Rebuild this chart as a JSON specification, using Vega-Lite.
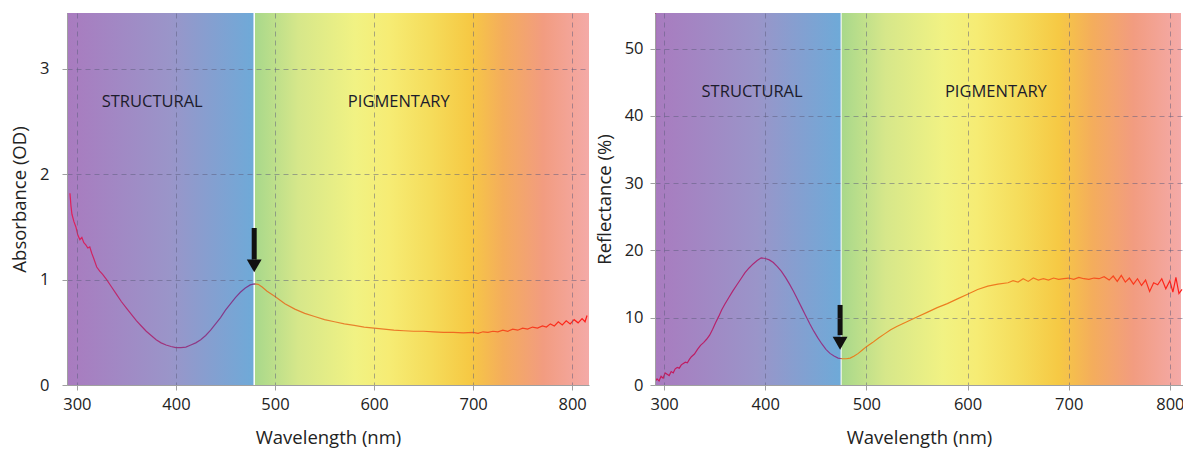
{
  "$schema": "https://vega.github.io/schema/vega-lite/v6.json",
  "background": "white",
  "padding": {"left": 10, "top": 12, "right": 0, "bottom": 3},
  "spacing": 6,
  "config": {
    "font": "Open Sans",
    "view": {"stroke": null},
    "axis": {
      "labelFont": "Open Sans", "labelFontSize": 16.5, "labelColor": "#222222",
      "titleFont": "Open Sans", "titleFontSize": 18.5, "titleFontWeight": "normal", "titleColor": "#222222",
      "domainColor": "#a0a0a0", "tickColor": "#a0a0a0", "tickSize": 5,
      "gridColor": "#5c5c7c", "gridOpacity": 0.5, "gridDash": [5, 4], "gridWidth": 1
    }
  },
  "datasets": {
    "regions": [
      {"panel": "L", "region": "structural", "x0": 290, "x1": 479.5},
      {"panel": "L", "region": "pigmentary", "x0": 479.5, "x1": 818},
      {"panel": "R", "region": "structural", "x0": 291, "x1": 475},
      {"panel": "R", "region": "pigmentary", "x0": 475, "x1": 811}
    ],
    "labels": [
      {"panel": "L", "w": 376, "v": 2.69, "text": "STRUCTURAL"},
      {"panel": "L", "w": 625, "v": 2.69, "text": "PIGMENTARY"},
      {"panel": "R", "w": 387, "v": 43.6, "text": "STRUCTURAL"},
      {"panel": "R", "w": 628, "v": 43.6, "text": "PIGMENTARY"}
    ],
    "arrows": [
      {"panel": "L", "w": 479, "top": 1.49, "bottom": 1.19, "head": 1.13},
      {"panel": "R", "w": 474, "top": 11.9, "bottom": 7.4, "head": 6.2}
    ],
    "edge": [
      {"w": 291.3, "r1": 30.7, "r2": 56}
    ],
    "absorbance": [
      {"w": 293, "a": 1.82}, {"w": 294, "a": 1.7}, {"w": 295, "a": 1.62}, {"w": 297, "a": 1.55}, {"w": 299, "a": 1.5},
      {"w": 301, "a": 1.42}, {"w": 303, "a": 1.38}, {"w": 305, "a": 1.4}, {"w": 307, "a": 1.35}, {"w": 309, "a": 1.33},
      {"w": 311, "a": 1.3}, {"w": 313, "a": 1.31}, {"w": 315, "a": 1.25}, {"w": 317, "a": 1.2}, {"w": 320, "a": 1.12},
      {"w": 323, "a": 1.08}, {"w": 326, "a": 1.05}, {"w": 330, "a": 1.0}, {"w": 335, "a": 0.93}, {"w": 340, "a": 0.86},
      {"w": 345, "a": 0.79}, {"w": 350, "a": 0.73}, {"w": 355, "a": 0.67}, {"w": 360, "a": 0.61}, {"w": 365, "a": 0.56},
      {"w": 370, "a": 0.51}, {"w": 375, "a": 0.47}, {"w": 380, "a": 0.43}, {"w": 385, "a": 0.4}, {"w": 390, "a": 0.38},
      {"w": 395, "a": 0.365}, {"w": 400, "a": 0.355}, {"w": 405, "a": 0.355}, {"w": 410, "a": 0.36}, {"w": 415, "a": 0.38},
      {"w": 420, "a": 0.4}, {"w": 425, "a": 0.43}, {"w": 430, "a": 0.47}, {"w": 435, "a": 0.52}, {"w": 440, "a": 0.58},
      {"w": 445, "a": 0.64}, {"w": 450, "a": 0.71}, {"w": 455, "a": 0.77}, {"w": 460, "a": 0.83}, {"w": 465, "a": 0.88},
      {"w": 470, "a": 0.92}, {"w": 475, "a": 0.95}, {"w": 479, "a": 0.96}, {"w": 483, "a": 0.955}, {"w": 487, "a": 0.93},
      {"w": 492, "a": 0.89}, {"w": 500, "a": 0.84}, {"w": 510, "a": 0.77}, {"w": 520, "a": 0.72}, {"w": 530, "a": 0.68},
      {"w": 540, "a": 0.65}, {"w": 550, "a": 0.62}, {"w": 560, "a": 0.6}, {"w": 570, "a": 0.58}, {"w": 580, "a": 0.565},
      {"w": 590, "a": 0.55}, {"w": 600, "a": 0.54}, {"w": 610, "a": 0.53}, {"w": 620, "a": 0.52}, {"w": 630, "a": 0.515},
      {"w": 640, "a": 0.51}, {"w": 650, "a": 0.51}, {"w": 660, "a": 0.505}, {"w": 670, "a": 0.5}, {"w": 680, "a": 0.5},
      {"w": 690, "a": 0.495}, {"w": 700, "a": 0.5}, {"w": 705, "a": 0.49}, {"w": 710, "a": 0.505}, {"w": 715, "a": 0.5},
      {"w": 720, "a": 0.51}, {"w": 725, "a": 0.505}, {"w": 730, "a": 0.52}, {"w": 735, "a": 0.51}, {"w": 740, "a": 0.53},
      {"w": 745, "a": 0.52}, {"w": 750, "a": 0.54}, {"w": 755, "a": 0.53}, {"w": 760, "a": 0.55}, {"w": 765, "a": 0.54},
      {"w": 770, "a": 0.56}, {"w": 774, "a": 0.55}, {"w": 778, "a": 0.58}, {"w": 782, "a": 0.56}, {"w": 786, "a": 0.6},
      {"w": 790, "a": 0.57}, {"w": 794, "a": 0.61}, {"w": 798, "a": 0.58}, {"w": 802, "a": 0.62}, {"w": 806, "a": 0.59},
      {"w": 810, "a": 0.63}, {"w": 813, "a": 0.6}, {"w": 815, "a": 0.66}
    ],
    "reflectance": [
      {"w": 291, "r": 0.5}, {"w": 293, "r": 0.9}, {"w": 295, "r": 0.6}, {"w": 297, "r": 1.3}, {"w": 299, "r": 1.0},
      {"w": 301, "r": 1.8}, {"w": 303, "r": 1.6}, {"w": 305, "r": 1.4}, {"w": 307, "r": 2.0}, {"w": 309, "r": 1.8},
      {"w": 311, "r": 2.4}, {"w": 313, "r": 2.6}, {"w": 315, "r": 2.5}, {"w": 317, "r": 3.0}, {"w": 319, "r": 3.2},
      {"w": 321, "r": 3.4}, {"w": 323, "r": 3.3}, {"w": 325, "r": 3.8}, {"w": 327, "r": 4.2}, {"w": 330, "r": 4.6},
      {"w": 333, "r": 5.3}, {"w": 336, "r": 5.9}, {"w": 339, "r": 6.3}, {"w": 342, "r": 6.8}, {"w": 345, "r": 7.4},
      {"w": 348, "r": 8.3}, {"w": 351, "r": 9.3}, {"w": 354, "r": 10.2}, {"w": 357, "r": 11.2}, {"w": 360, "r": 12.0},
      {"w": 364, "r": 13.0}, {"w": 368, "r": 14.0}, {"w": 372, "r": 14.9}, {"w": 376, "r": 15.8}, {"w": 380, "r": 16.7},
      {"w": 384, "r": 17.4}, {"w": 388, "r": 18.0}, {"w": 392, "r": 18.5}, {"w": 396, "r": 18.9}, {"w": 400, "r": 18.8},
      {"w": 404, "r": 18.6}, {"w": 408, "r": 18.2}, {"w": 412, "r": 17.6}, {"w": 416, "r": 16.9}, {"w": 420, "r": 16.0},
      {"w": 424, "r": 15.0}, {"w": 428, "r": 13.9}, {"w": 432, "r": 12.7}, {"w": 436, "r": 11.5}, {"w": 440, "r": 10.3},
      {"w": 444, "r": 9.1}, {"w": 448, "r": 8.0}, {"w": 452, "r": 7.0}, {"w": 456, "r": 6.1}, {"w": 460, "r": 5.3},
      {"w": 464, "r": 4.7}, {"w": 468, "r": 4.3}, {"w": 472, "r": 4.0}, {"w": 476, "r": 3.9}, {"w": 480, "r": 3.9},
      {"w": 484, "r": 4.0}, {"w": 488, "r": 4.3}, {"w": 492, "r": 4.7}, {"w": 496, "r": 5.2}, {"w": 500, "r": 5.7},
      {"w": 506, "r": 6.3}, {"w": 512, "r": 7.0}, {"w": 518, "r": 7.6}, {"w": 524, "r": 8.2}, {"w": 530, "r": 8.7},
      {"w": 540, "r": 9.4}, {"w": 550, "r": 10.1}, {"w": 560, "r": 10.8}, {"w": 570, "r": 11.5}, {"w": 580, "r": 12.1},
      {"w": 590, "r": 12.8}, {"w": 600, "r": 13.5}, {"w": 610, "r": 14.2}, {"w": 620, "r": 14.7}, {"w": 630, "r": 15.0},
      {"w": 640, "r": 15.2}, {"w": 645, "r": 15.5}, {"w": 650, "r": 15.3}, {"w": 655, "r": 15.8}, {"w": 660, "r": 15.4},
      {"w": 665, "r": 15.9}, {"w": 670, "r": 15.6}, {"w": 675, "r": 15.8}, {"w": 680, "r": 15.6}, {"w": 685, "r": 15.9},
      {"w": 690, "r": 15.7}, {"w": 695, "r": 15.8}, {"w": 700, "r": 15.9}, {"w": 705, "r": 15.7}, {"w": 710, "r": 16.0},
      {"w": 715, "r": 15.8}, {"w": 720, "r": 15.7}, {"w": 725, "r": 15.9}, {"w": 730, "r": 15.8}, {"w": 735, "r": 16.1},
      {"w": 740, "r": 15.6}, {"w": 744, "r": 16.2}, {"w": 748, "r": 15.4}, {"w": 752, "r": 16.3}, {"w": 756, "r": 15.3},
      {"w": 760, "r": 15.9}, {"w": 764, "r": 15.0}, {"w": 768, "r": 15.8}, {"w": 772, "r": 14.8}, {"w": 776, "r": 15.6},
      {"w": 780, "r": 13.9}, {"w": 784, "r": 15.2}, {"w": 788, "r": 14.9}, {"w": 792, "r": 15.8}, {"w": 796, "r": 14.3},
      {"w": 800, "r": 15.5}, {"w": 803, "r": 13.8}, {"w": 806, "r": 16.0}, {"w": 809, "r": 13.6}, {"w": 812, "r": 14.2}
    ]
  },
  "hconcat": [
    {
      "width": 522,
      "height": 372,
      "layer": [
        {
          "data": {"name": "regions"},
          "transform": [{"filter": "datum.panel == 'L' && datum.region == 'structural'"}],
          "mark": {"type": "rect", "clip": true, "fill": {"gradient": "linear", "x1": 0, "y1": 0, "x2": 1, "y2": 0,
            "stops": [{"offset": 0, "color": "#a97bbf"}, {"offset": 0.55, "color": "#9a95c9"}, {"offset": 1, "color": "#6eaad8"}]}},
          "encoding": {
            "x": {"field": "x0", "type": "quantitative", "scale": {"domain": [290, 817], "nice": false},
              "axis": {"values": [300, 400, 500, 600, 700, 800], "title": "Wavelength (nm)", "titlePadding": 16, "labelPadding": 6, "zindex": 1, "grid": true}},
            "x2": {"field": "x1"}
          }
        },
        {
          "data": {"name": "regions"},
          "transform": [{"filter": "datum.panel == 'L' && datum.region == 'pigmentary'"}],
          "mark": {"type": "rect", "clip": true, "fill": {"gradient": "linear", "x1": 0, "y1": 0, "x2": 1, "y2": 0,
            "stops": [{"offset": 0, "color": "#a8d88b"}, {"offset": 0.13, "color": "#d6e78a"}, {"offset": 0.3, "color": "#f1f283"},
              {"offset": 0.4, "color": "#f6ec74"}, {"offset": 0.52, "color": "#f5dd5c"}, {"offset": 0.64, "color": "#f6c944"},
              {"offset": 0.74, "color": "#f4ad5c"}, {"offset": 0.86, "color": "#f29c80"}, {"offset": 1, "color": "#f4aaa8"}]}},
          "encoding": {
            "x": {"field": "x0", "type": "quantitative"},
            "x2": {"field": "x1"}
          }
        },
        {
          "data": {"name": "arrows"},
          "transform": [{"filter": "datum.panel == 'L'"}],
          "mark": {"type": "rule", "color": "white", "strokeWidth": 1.5},
          "encoding": {"x": {"field": "w", "type": "quantitative"}}
        },
        {
          "data": {"name": "absorbance"},
          "mark": {"type": "line", "clip": true, "strokeWidth": 1.2, "interpolate": "linear",
            "stroke": {"gradient": "linear", "x1": 0, "y1": 0, "x2": 1, "y2": 0,
              "stops": [{"offset": 0, "color": "#e0205a"}, {"offset": 0.1, "color": "#b82a70"}, {"offset": 0.25, "color": "#8c3a86"},
                {"offset": 0.356, "color": "#7a3a8e"}, {"offset": 0.36, "color": "#e0782c"}, {"offset": 0.55, "color": "#e8842c"},
                {"offset": 0.75, "color": "#f06a20"}, {"offset": 0.9, "color": "#f83a1e"}, {"offset": 1, "color": "#ff1a1a"}]}},
          "encoding": {
            "x": {"field": "w", "type": "quantitative"},
            "y": {"field": "a", "type": "quantitative", "scale": {"domain": [0, 3.53], "nice": false},
              "axis": {"values": [0, 1, 2, 3], "format": "d", "title": "Absorbance (OD)", "titlePadding": 10, "labelPadding": 13, "zindex": 1, "grid": true}}
          }
        },
        {
          "data": {"name": "labels"},
          "transform": [{"filter": "datum.panel == 'L'"}],
          "mark": {"type": "text", "fontSize": 16.5, "color": "#1c1c2c", "font": "Open Sans"},
          "encoding": {
            "x": {"field": "w", "type": "quantitative"},
            "y": {"field": "v", "type": "quantitative"},
            "text": {"field": "text"}
          }
        },
        {
          "data": {"name": "arrows"},
          "transform": [{"filter": "datum.panel == 'L'"}],
          "mark": {"type": "rule", "color": "#111111", "strokeWidth": 5},
          "encoding": {
            "x": {"field": "w", "type": "quantitative"},
            "y": {"field": "top", "type": "quantitative"},
            "y2": {"field": "bottom"}
          }
        },
        {
          "data": {"name": "arrows"},
          "transform": [{"filter": "datum.panel == 'L'"}],
          "mark": {"type": "point", "shape": "triangle-down", "filled": true, "color": "#111111", "size": 220, "opacity": 1},
          "encoding": {
            "x": {"field": "w", "type": "quantitative"},
            "y": {"field": "head", "type": "quantitative"}
          }
        }
      ]
    },
    {
      "width": 528,
      "height": 372,
      "layer": [
        {
          "data": {"name": "regions"},
          "transform": [{"filter": "datum.panel == 'R' && datum.region == 'structural'"}],
          "mark": {"type": "rect", "clip": true, "fill": {"gradient": "linear", "x1": 0, "y1": 0, "x2": 1, "y2": 0,
            "stops": [{"offset": 0, "color": "#a97bbf"}, {"offset": 0.55, "color": "#9a95c9"}, {"offset": 1, "color": "#6eaad8"}]}},
          "encoding": {
            "x": {"field": "x0", "type": "quantitative", "scale": {"domain": [291, 813], "nice": false},
              "axis": {"values": [300, 400, 500, 600, 700, 800], "title": "Wavelength (nm)", "titlePadding": 16, "labelPadding": 6, "zindex": 1, "grid": true}},
            "x2": {"field": "x1"}
          }
        },
        {
          "data": {"name": "regions"},
          "transform": [{"filter": "datum.panel == 'R' && datum.region == 'pigmentary'"}],
          "mark": {"type": "rect", "clip": true, "fill": {"gradient": "linear", "x1": 0, "y1": 0, "x2": 1, "y2": 0,
            "stops": [{"offset": 0, "color": "#a8d88b"}, {"offset": 0.13, "color": "#d6e78a"}, {"offset": 0.3, "color": "#f1f283"},
              {"offset": 0.4, "color": "#f6ec74"}, {"offset": 0.52, "color": "#f5dd5c"}, {"offset": 0.64, "color": "#f6c944"},
              {"offset": 0.74, "color": "#f4ad5c"}, {"offset": 0.86, "color": "#f29c80"}, {"offset": 1, "color": "#f4aaa8"}]}},
          "encoding": {
            "x": {"field": "x0", "type": "quantitative"},
            "x2": {"field": "x1"}
          }
        },
        {
          "data": {"name": "regions"},
          "transform": [{"filter": "datum.panel == 'R' && datum.region == 'pigmentary'"}],
          "mark": {"type": "rule", "color": "white", "strokeWidth": 1},
          "encoding": {"x": {"field": "x0", "type": "quantitative"}}
        },
        {
          "data": {"name": "edge"},
          "mark": {"type": "rule", "clip": true, "color": "#9a1050", "strokeWidth": 1.5},
          "encoding": {
            "x": {"field": "w", "type": "quantitative"},
            "y": {"field": "r1", "type": "quantitative"},
            "y2": {"field": "r2"}
          }
        },
        {
          "data": {"name": "reflectance"},
          "mark": {"type": "line", "clip": true, "strokeWidth": 1.2, "interpolate": "linear",
            "stroke": {"gradient": "linear", "x1": 0, "y1": 0, "x2": 1, "y2": 0,
              "stops": [{"offset": 0, "color": "#c8185a"}, {"offset": 0.2, "color": "#a82a78"}, {"offset": 0.35, "color": "#8a3a8c"},
                {"offset": 0.356, "color": "#e8821e"}, {"offset": 0.7, "color": "#f07a20"}, {"offset": 0.86, "color": "#f84a1e"},
                {"offset": 1, "color": "#ff1a1a"}]}},
          "encoding": {
            "x": {"field": "w", "type": "quantitative"},
            "y": {"field": "r", "type": "quantitative", "scale": {"domain": [0, 55.3], "nice": false},
              "axis": {"values": [0, 10, 20, 30, 40, 50], "title": "Reflectance (%)", "titlePadding": 10, "labelPadding": 7, "zindex": 1, "grid": true}}
          }
        },
        {
          "data": {"name": "labels"},
          "transform": [{"filter": "datum.panel == 'R'"}],
          "mark": {"type": "text", "fontSize": 16.5, "color": "#1c1c2c", "font": "Open Sans"},
          "encoding": {
            "x": {"field": "w", "type": "quantitative"},
            "y": {"field": "v", "type": "quantitative"},
            "text": {"field": "text"}
          }
        },
        {
          "data": {"name": "arrows"},
          "transform": [{"filter": "datum.panel == 'R'"}],
          "mark": {"type": "rule", "color": "#111111", "strokeWidth": 5},
          "encoding": {
            "x": {"field": "w", "type": "quantitative"},
            "y": {"field": "top", "type": "quantitative"},
            "y2": {"field": "bottom"}
          }
        },
        {
          "data": {"name": "arrows"},
          "transform": [{"filter": "datum.panel == 'R'"}],
          "mark": {"type": "point", "shape": "triangle-down", "filled": true, "color": "#111111", "size": 220, "opacity": 1},
          "encoding": {
            "x": {"field": "w", "type": "quantitative"},
            "y": {"field": "head", "type": "quantitative"}
          }
        }
      ]
    }
  ],
  "resolve": {"scale": {"x": "independent", "y": "independent"}}
}
